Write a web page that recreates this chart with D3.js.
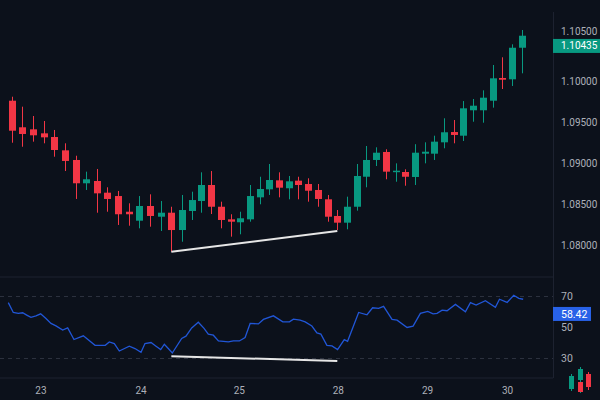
<!DOCTYPE html>
<html>
<head>
<meta charset="utf-8">
<script src="https://cdn.jsdelivr.net/npm/d3@7"></script>
<style>
  html, body { margin: 0; padding: 0; background: #0c111b; }
  svg { display: block; }
  text { font-family: Roboto, "Noto Sans", sans-serif; }
</style>
</head>
<body>
<svg id="chart" width="600" height="400"></svg>
<script>
// candles (index = candle number)
const candleOpen  = [1.09765,1.09440,1.09415,1.09366,1.09321,1.09158,1.09040,1.08755,1.08783,1.08640,
                     1.08599,1.08407,1.08297,1.08477,1.08346,1.08395,1.08183,1.08416,1.08538,1.08734,
                     1.08468,1.08314,1.08278,1.08314,1.08583,1.08681,1.08791,1.08694,1.08787,1.08746,
                     1.08673,1.08559,1.08355,1.08273,1.08468,1.08835,1.09040,1.09138,1.08893,1.08893,
                     1.08832,1.09117,1.09117,1.09256,1.09382,1.09337,1.09648,1.09648,1.09765,1.10043,
                     1.10027,1.10413];
const candleHigh  = [1.09814,1.09692,1.09578,1.09517,1.09407,1.09244,1.09092,1.08897,1.08930,1.08706,
                     1.08661,1.08510,1.08599,1.08620,1.08538,1.08468,1.08612,1.08652,1.08889,1.08905,
                     1.08530,1.08376,1.08407,1.08734,1.08835,1.08991,1.08889,1.08844,1.08835,1.08816,
                     1.08746,1.08612,1.08428,1.08591,1.08991,1.09211,1.09195,1.09171,1.08999,1.08926,
                     1.09233,1.09256,1.09337,1.09550,1.09529,1.09761,1.09786,1.09892,1.10202,1.10296,
                     1.10455,1.10630];
const candleLow   = [1.09251,1.09202,1.09264,1.09244,1.09080,1.08905,1.08563,1.08673,1.08395,1.08407,
                     1.08245,1.08236,1.08204,1.08224,1.08171,1.07918,1.08040,1.08306,1.08395,1.08379,
                     1.08204,1.08102,1.08131,1.08285,1.08498,1.08612,1.08583,1.08559,1.08559,1.08530,
                     1.08468,1.08285,1.08183,1.08192,1.08420,1.08706,1.08966,1.08804,1.08774,1.08725,
                     1.08734,1.08999,1.09040,1.09183,1.09244,1.09272,1.09508,1.09496,1.09680,1.09908,
                     1.09945,1.10100];
const candleClose = [1.09398,1.09358,1.09342,1.09317,1.09162,1.09028,1.08755,1.08804,1.08632,1.08563,
                     1.08376,1.08376,1.08477,1.08355,1.08395,1.08183,1.08428,1.08550,1.08734,1.08468,
                     1.08306,1.08285,1.08327,1.08599,1.08685,1.08795,1.08701,1.08779,1.08734,1.08664,
                     1.08563,1.08346,1.08273,1.08468,1.08844,1.09040,1.09129,1.08897,1.08909,1.08835,
                     1.09129,1.09141,1.09264,1.09379,1.09346,1.09672,1.09704,1.09802,1.10039,1.10022,
                     1.10413,1.10560];

// RSI line: time (in candle units) and value
const rsiTime  = [-0.32,0.15,0.62,1.03,1.41,1.81,2.28,2.72,3.22,3.69,4.16,4.79,5.26,5.85,6.73,7.83,8.79,9.17,
                  9.64,10.11,11.05,11.58,12.15,12.52,13.09,13.56,14.00,14.34,14.71,15.09,15.97,16.41,17.00,
                  17.68,18.27,18.71,19.23,19.75,20.78,21.29,21.91,22.50,23.02,23.87,24.39,25.42,26.39,27.07,
                  27.48,28.17,28.69,29.38,29.90,30.31,30.93,31.45,32.03,32.72,33.06,34.20,35.06,35.64,36.26,
                  36.77,37.64,38.16,39.19,39.81,40.56,41.32,41.87,42.28,42.80,43.31,44.17,45.20,45.72,46.30,
                  47.26,48.29,48.71,49.50,50.18,50.70,51.15];
const rsiValue = [65.7,59.4,58.8,59.2,57.7,56.2,57.2,58.5,55.5,52.3,50.7,48.0,49.4,41.9,44.3,38.2,38.2,40.4,
                  39.3,34.5,37.6,36.1,33.7,39.3,40.0,37.6,35.4,38.9,36.1,33.2,42.6,44.1,49.4,
                  53.1,49.1,45.4,44.7,41.0,40.4,41.0,41.0,43.2,52.3,52.0,54.9,57.2,53.3,53.3,
                  55.1,54.4,53.3,50.6,46.2,45.4,38.2,37.8,35.4,41.9,40.8,59.4,57.9,62.4,62.0,
                  63.3,54.9,54.4,49.7,50.6,58.8,60.1,58.5,58.8,60.9,60.5,64.6,59.8,65.7,64.2,
                  67.0,62.7,67.9,65.9,70.5,68.5,67.9];

// trend lines drawn on chart (time, value)
const priceTrend = [[15, 1.07918], [32, 1.08171]];
const rsiTrend   = [[15, 31.1], [32, 28.1]];

// axes
const priceTicks = [1.08, 1.085, 1.09, 1.095, 1.10, 1.105];
const rsiTicks   = [30, 50, 70];
const rsiLevels  = [30, 70];
const dayLabels  = ['23', '24', '25', '28', '29', '30'];
const dayTime    = [2.75, 12.15, 21.9, 32.1, 41.3, 49.55];
const lastPrice  = 1.10435;
const lastRsi    = 58.42;

const svg = d3.select('#chart');
const W = 600, H = 400;
const plotRight = 553;
const priceBottom = 277, rsiBottom = 378;

const green = '#089981', red = '#f23645';
const gridCol = '#1d2230';
const textCol = '#acb0b9';

const x = d3.scaleLinear().domain([0, 16, 51]).range([11.7, 182, 521.7]);
const y = d3.scaleLinear().domain([1.08, 1.10]).range([245, 81.5]);
const ry = d3.scaleLinear().domain([30, 70]).range([358, 296]);

svg.append('rect').attr('width', W).attr('height', H).attr('fill', '#0c111b');

// pane separators
svg.append('line').attr('x1', 0).attr('x2', plotRight).attr('y1', priceBottom).attr('y2', priceBottom)
  .attr('stroke', gridCol).attr('stroke-width', 1);
svg.append('line').attr('x1', 0).attr('x2', plotRight).attr('y1', rsiBottom).attr('y2', rsiBottom)
  .attr('stroke', gridCol).attr('stroke-width', 1);
svg.append('line').attr('x1', plotRight + 0.5).attr('x2', plotRight + 0.5).attr('y1', 12).attr('y2', rsiBottom)
  .attr('stroke', gridCol).attr('stroke-width', 1);

// RSI levels
svg.append('g').selectAll('line').data(rsiLevels).enter().append('line')
  .attr('x1', 0).attr('x2', plotRight)
  .attr('y1', d => Math.round(ry(d)) + 0.5).attr('y2', d => Math.round(ry(d)) + 0.5)
  .attr('stroke', '#2c313e').attr('stroke-dasharray', '4,4');

// candles
const idx = d3.range(candleOpen.length);
const bodyW = 7;
const candles = svg.append('g').selectAll('g').data(idx).enter().append('g');
candles.append('line')
  .attr('x1', i => Math.round(x(i)) + 0.5).attr('x2', i => Math.round(x(i)) + 0.5)
  .attr('y1', i => y(candleHigh[i])).attr('y2', i => y(candleLow[i]))
  .attr('stroke', i => candleClose[i] >= candleOpen[i] ? green : red)
  .attr('stroke-width', 1);
candles.append('rect')
  .attr('x', i => Math.round(x(i)) + 0.5 - bodyW / 2)
  .attr('width', bodyW)
  .attr('y', i => y(Math.max(candleOpen[i], candleClose[i])))
  .attr('height', i => Math.max(1.5, Math.abs(y(candleOpen[i]) - y(candleClose[i]))))
  .attr('fill', i => candleClose[i] >= candleOpen[i] ? green : red);

// RSI line
const rsiLine = d3.line().x((d, i) => x(rsiTime[i])).y((d, i) => ry(rsiValue[i]));
svg.append('path').datum(rsiValue).attr('d', rsiLine)
  .attr('fill', 'none').attr('stroke', '#2156d6').attr('stroke-width', 1.3);

// trend lines
svg.append('line')
  .attr('x1', x(priceTrend[0][0])).attr('y1', y(priceTrend[0][1]))
  .attr('x2', x(priceTrend[1][0])).attr('y2', y(priceTrend[1][1]))
  .attr('stroke', '#e6e6e6').attr('stroke-width', 2);
svg.append('line')
  .attr('x1', x(rsiTrend[0][0])).attr('y1', ry(rsiTrend[0][1]))
  .attr('x2', x(rsiTrend[1][0])).attr('y2', ry(rsiTrend[1][1]))
  .attr('stroke', '#e6e6e6').attr('stroke-width', 2);

// price axis labels, pushed up when they hit the last price tag
const fmt = d3.format('.5f');
const tagY = y(lastPrice);
svg.append('g').selectAll('text').data(priceTicks).enter().append('text')
  .attr('x', 561)
  .attr('y', d => Math.abs(y(d) - tagY) < 13 ? tagY - 14 : y(d))
  .attr('dy', '0.35em')
  .attr('fill', textCol).attr('font-size', 10)
  .text(d => fmt(d));

svg.append('rect').attr('x', plotRight).attr('y', tagY - 7).attr('width', 47).attr('height', 14)
  .attr('fill', green);
svg.append('text').attr('x', 561).attr('y', tagY).attr('dy', '0.35em')
  .attr('fill', '#ffffff').attr('font-size', 10).text(fmt(lastPrice));

// RSI axis labels
svg.append('g').selectAll('text').data(rsiTicks).enter().append('text')
  .attr('x', 561).attr('y', d => ry(d)).attr('dy', '0.35em')
  .attr('fill', textCol).attr('font-size', 10.5)
  .text(d => d);

const rTagY = ry(lastRsi);
svg.append('rect').attr('x', plotRight).attr('y', rTagY - 7).attr('width', 38).attr('height', 14)
  .attr('fill', '#2862e8');
svg.append('text').attr('x', 561).attr('y', rTagY).attr('dy', '0.35em')
  .attr('fill', '#ffffff').attr('font-size', 10.5).text(lastRsi.toFixed(2));

// time axis
svg.append('g').selectAll('text').data(dayLabels).enter().append('text')
  .attr('x', (d, i) => x(dayTime[i])).attr('y', 390).attr('dy', '0.35em')
  .attr('text-anchor', 'middle')
  .attr('fill', textCol).attr('font-size', 10)
  .text(d => d);

// small candles icon bottom right
const icon = svg.append('g').attr('transform', 'translate(568,366)');
icon.append('line').attr('x1', 3.5).attr('x2', 3.5).attr('y1', 8).attr('y2', 25).attr('stroke', green);
icon.append('rect').attr('x', 1).attr('y', 10).attr('width', 5).attr('height', 13).attr('fill', green);
icon.append('line').attr('x1', 12.5).attr('x2', 12.5).attr('y1', 1).attr('y2', 27).attr('stroke', green);
icon.append('rect').attr('x', 10).attr('y', 3).attr('width', 5).attr('height', 11).attr('fill', green);
icon.append('rect').attr('x', 10).attr('y', 16).attr('width', 5).attr('height', 10).attr('fill', red);
icon.append('line').attr('x1', 20.5).attr('x2', 20.5).attr('y1', 6).attr('y2', 24).attr('stroke', red);
icon.append('rect').attr('x', 18).attr('y', 8).attr('width', 5).attr('height', 13).attr('fill', red);
</script>
</body>
</html>
